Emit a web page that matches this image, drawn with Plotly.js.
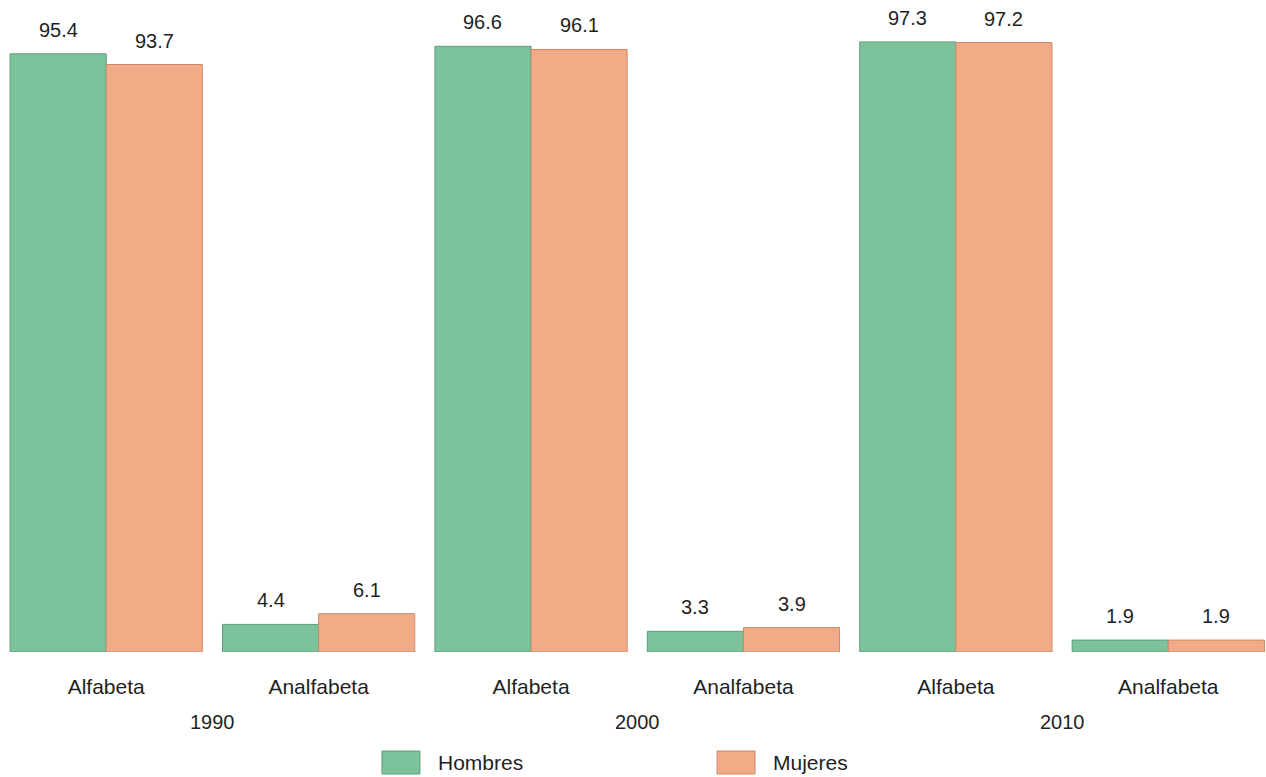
<!DOCTYPE html>
<html>
<head>
<meta charset="utf-8">
<script src="https://cdn.plot.ly/plotly-3.0.1.min.js"></script>
<style>html,body{margin:0;padding:0;background:#fff;}#chart{width:1266px;height:777px;}</style>
</head>
<body>
<div id="chart"></div>
<script>
const years = ['1990', '2000', '2010'];
const groups = ['Alfabeta', 'Analfabeta'];
const seriesNames = ['Hombres', 'Mujeres'];
const hombres = [95.4, 4.4, 96.6, 3.3, 97.3, 1.9];
const mujeres = [93.7, 6.1, 96.1, 3.9, 97.2, 1.9];

const colors = ['#7cc39c', '#f1ab87'];
const lineColors = ['#5e9c79', '#c98a6b'];
const FONT = '"Liberation Sans", Arial, sans-serif';
const TXT = '#1f1f1f';

const idx = [];
const tickText = [];
years.forEach((y, yi) => groups.forEach((g, gi) => { idx.push(yi * groups.length + gi); tickText.push(g); }));

const bargap = 0.095;
const data = [hombres, mujeres].map((vals, s) => ({
  type: 'bar', name: seriesNames[s], x: idx, y: vals,
  marker: {color: colors[s], line: {color: lineColors[s], width: 1}},
  showlegend: false, hoverinfo: 'x+y'
}));

const annotations = [];
const halfW = (1 - bargap) / 4;
[hombres, mujeres].forEach((vals, s) => vals.forEach((v, i) => {
  annotations.push({x: idx[i] + (s === 0 ? -halfW : halfW), y: v, xref: 'x', yref: 'y',
    text: v.toFixed(1), showarrow: false, yanchor: 'middle', yshift: 24,
    font: {family: FONT, size: 20, color: TXT}});
}));
years.forEach((y, yi) => {
  annotations.push({x: yi * groups.length + (groups.length - 1) / 2, y: -0.1116, xref: 'x', yref: 'paper',
    text: y, showarrow: false, yanchor: 'middle', font: {family: FONT, size: 20, color: TXT}});
});

// legend (custom, in paper coordinates)
const shapes = [];
const legX = [0.3017, 0.5664];
seriesNames.forEach((n, s) => {
  shapes.push({type: 'rect', xref: 'paper', yref: 'paper', x0: legX[s], x1: legX[s] + 0.030, y0: -0.1946, y1: -0.1579,
    fillcolor: colors[s], line: {color: lineColors[s], width: 1}});
  annotations.push({x: legX[s] + 0.0427, y: -0.177, xref: 'paper', yref: 'paper', xanchor: 'left', yanchor: 'middle',
    text: n, showarrow: false, font: {family: FONT, size: 21, color: TXT}});
});

const layout = {
  width: 1266, height: 777,
  margin: {l: 0, r: 0, t: 25, b: 125},
  paper_bgcolor: '#fff', plot_bgcolor: '#fff',
  barmode: 'group', bargap: bargap, bargroupgap: 0,
  xaxis: {type: 'linear', range: [-0.5, 5.46], tickvals: idx, ticktext: tickText, showgrid: false, zeroline: false,
    showline: false, ticks: '', ticklabelstandoff: 20, tickfont: {family: FONT, size: 21, color: TXT}, fixedrange: true},
  yaxis: {range: [0, 100], showgrid: false, zeroline: false, showline: false, showticklabels: false, ticks: '', fixedrange: true},
  showlegend: false,
  annotations: annotations, shapes: shapes
};
Plotly.newPlot('chart', data, layout, {displayModeBar: false, staticPlot: true});
</script>
</body>
</html>
